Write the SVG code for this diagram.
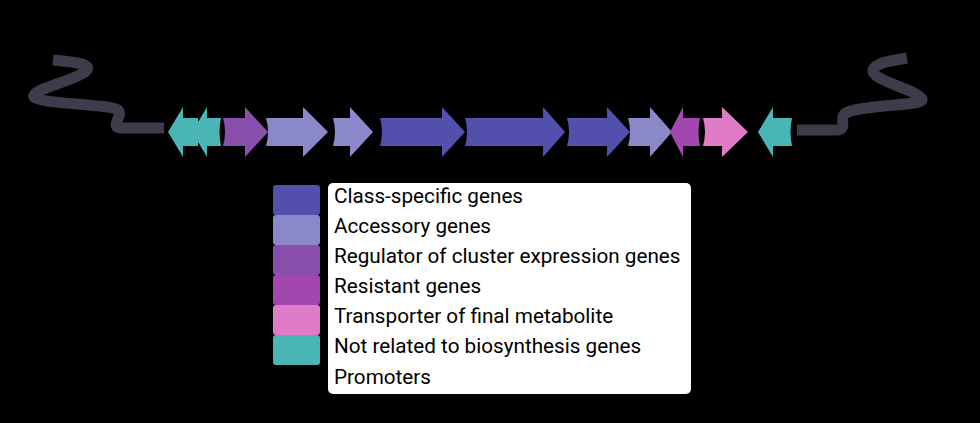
<svg xmlns="http://www.w3.org/2000/svg" width="980" height="423" viewBox="0 0 980 423">
<style>
.strand{fill:none;stroke:#3e3c4a;stroke-width:11;stroke-linecap:butt;stroke-linejoin:round}
.cs{fill:#5250ac}.ac{fill:#8b88c9}.rg{fill:#8a4ead}.rs{fill:#a347b0}.tr{fill:#e07bc8}.nr{fill:#4ab5b6}
.lbl{font-family:Roboto,"Liberation Sans",sans-serif;font-size:20.7px;fill:#000}
</style>
<rect width="980" height="423" fill="#000"/>
<g id="connectors">
<path class="strand" d="M53,60 C75,62 95,64 85,72 C70,82 30,90 34,97 C40,104 110,104 118,110 C124,116 108,128 122,128 L164,128"/>
<path class="strand" d="M797,130 L836,130 C850,130 836,116 848,112 C870,104 925,106 922,99 C918,90 870,80 873,70 C876,62 895,60 907,58"/>
</g>
<g id="gene1"><path class="nr" d="M168,132 L183,107 L183,118 L198,118 L198,146 L183,146 L183,157 Z"/></g>
<g id="gene2"><path class="nr" d="M192,132 L207,107 L207,118 L221,118 Q218,132 221,146 L207,146 L207,157 Z"/></g>
<g id="gene3"><path class="rg" d="M223,118 L245,118 L245,107 L268,132 L245,157 L245,146 L223,146 Q227,132 223,118 Z"/></g>
<g id="gene4"><path class="ac" d="M266,118 L303,118 L303,107 L328,132 L303,157 L303,146 L266,146 Q270,132 266,118 Z"/></g>
<g id="gene5"><path class="ac" d="M333,118 L350,118 L350,107 L373,132 L350,157 L350,146 L333,146 Q337,132 333,118 Z"/></g>
<g id="gene6"><path class="cs" d="M380,118 L442,118 L442,107 L465,132 L442,157 L442,146 L380,146 Q384,132 380,118 Z"/></g>
<g id="gene7"><path class="cs" d="M465,118 L543,118 L543,107 L565,132 L543,157 L543,146 L465,146 Q469,132 465,118 Z"/></g>
<g id="gene8"><path class="cs" d="M567,118 L607,118 L607,107 L630,132 L607,157 L607,146 L567,146 Q571,132 567,118 Z"/></g>
<g id="gene9"><path class="ac" d="M628,118 L650,118 L650,107 L672,132 L650,157 L650,146 L628,146 Q632,132 628,118 Z"/></g>
<g id="gene10"><path class="rs" d="M670,132 L683,107 L683,118 L700,118 Q697,132 700,146 L683,146 L683,157 Z"/></g>
<g id="gene11"><path class="tr" d="M703,118 L722,118 L722,107 L748,132 L722,157 L722,146 L703,146 Q707,132 703,118 Z"/></g>
<g id="gene12"><path class="nr" d="M758,132 L773,107 L773,118 L792,118 Q789,132 792,146 L773,146 L773,157 Z"/></g>
<g id="legend">
<rect x="328" y="183" width="363" height="211" rx="5" fill="#fff"/>
<rect class="cs" x="273" y="185" width="47" height="30" rx="3"/>
<rect class="ac" x="273" y="215" width="47" height="30" rx="3"/>
<rect class="rg" x="273" y="245" width="47" height="30" rx="3"/>
<rect class="rs" x="273" y="275" width="47" height="30" rx="3"/>
<rect class="tr" x="273" y="305" width="47" height="30" rx="3"/>
<rect class="nr" x="273" y="335" width="47" height="30" rx="3"/>
<text class="lbl" x="334" y="203">Class-specific genes</text>
<text class="lbl" x="334" y="233">Accessory genes</text>
<text class="lbl" x="334" y="263">Regulator of cluster expression genes</text>
<text class="lbl" x="334" y="293">Resistant genes</text>
<text class="lbl" x="334" y="323">Transporter of final metabolite</text>
<text class="lbl" x="334" y="353">Not related to biosynthesis genes</text>
<text class="lbl" x="334" y="384">Promoters</text>
</g>
</svg>
